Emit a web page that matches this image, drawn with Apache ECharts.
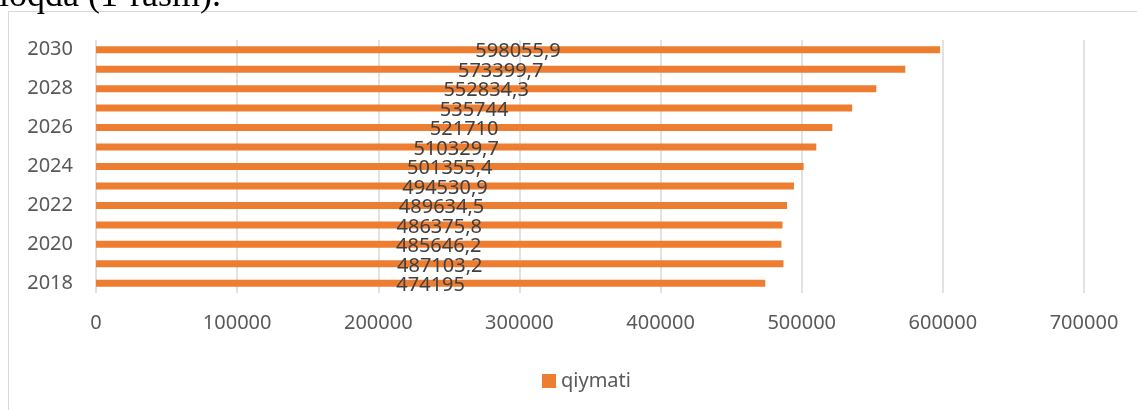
<!DOCTYPE html>
<html>
<head>
<meta charset="utf-8">
<style>
html,body{margin:0;padding:0;background:#fff;}
#chart{width:1137px;height:410px;}
</style>
<script src="https://cdn.jsdelivr.net/npm/echarts@6/dist/echarts.min.js"></script>
</head>
<body>
<div id="chart"></div>
<script>
const years = ['2018','2019','2020','2021','2022','2023','2024','2025','2026','2027','2028','2029','2030'];
const qiymati = [474195, 487103.2, 485646.2, 486375.8, 489634.5, 494530.9, 501355.4, 510329.7, 521710, 535744, 552834.3, 573399.7, 598055.9];
const seriesName = 'qiymati';
const headingText = 'loqda (1-rasm).';

const chart = echarts.init(document.getElementById('chart'), null, {renderer: 'canvas'});
const font = '"Noto Sans", "Open Sans", sans-serif';
chart.setOption({
  animation: false,
  graphic: [
    {type: 'rect', shape: {x: 8.5, y: 11.5, width: 1200, height: 500}, style: {fill: 'none', stroke: '#d9d9d9', lineWidth: 1}, silent: true},
    {type: 'text', silent: true, style: {x: -1, y: 15, text: headingText, align: 'left', verticalAlign: 'bottom',
      fontFamily: '"Liberation Serif", "DejaVu Serif", serif', fontSize: 36, fill: '#000'}}
  ],
  grid: {left: 96, right: 53, top: 40, bottom: 117, containLabel: false},
  legend: {
    data: [seriesName], left: 537, top: 366, icon: 'rect', itemWidth: 14, itemHeight: 14, itemGap: 6,
    textStyle: {color: '#595959', fontSize: 20, fontFamily: font}
  },
  xAxis: {
    type: 'value', min: 0, max: 700000, interval: 100000,
    axisLine: {show: false}, axisTick: {show: false},
    splitLine: {lineStyle: {color: '#d9d9d9', width: 1.5}},
    axisLabel: {color: '#595959', fontSize: 20, fontFamily: font, margin: 20, formatter: v => String(v)}
  },
  yAxis: {
    type: 'category', data: years,
    axisLine: {show: false}, axisTick: {show: false},
    axisLabel: {color: '#595959', fontSize: 20, fontFamily: font, margin: 23, interval: 1}
  },
  series: [{
    name: seriesName, type: 'bar', data: qiymati, barWidth: 7,
    itemStyle: {color: '#ed7d31'},
    label: {
      show: true, position: 'inside', color: '#404040', fontSize: 20, fontFamily: font,
      offset: [0, 2],
      formatter: p => String(p.value).replace('.', ',')
    }
  }]
});
</script>
</body>
</html>
